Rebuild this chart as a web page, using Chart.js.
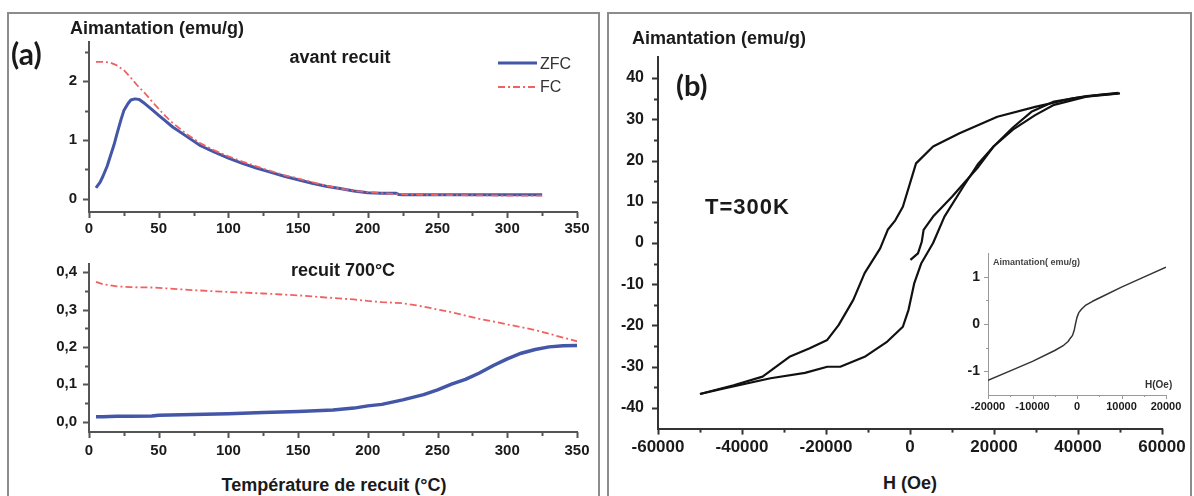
<!DOCTYPE html>
<html>
<head>
<meta charset="utf-8">
<script src="https://cdn.jsdelivr.net/npm/chart.js@4.4.1/dist/chart.umd.min.js"></script>
<style>
  body { margin: 0; width: 1194px; height: 496px; background: #fff; position: relative; overflow: hidden; font-family: "Liberation Sans", Arial, sans-serif; }
  .box { position: absolute; border: 2px solid #8c8c8c; }
  canvas { position: absolute; }
  .t { position: absolute; white-space: nowrap; line-height: 1; color: #1a1a1a; font-weight: bold; }
  .c { transform: translate(-50%, -50%); }
  .l { transform: translateY(-50%); }
</style>
</head>
<body>
<div class="box" style="left:7px;top:12px;width:589px;height:500px"></div>
<div class="box" style="left:607px;top:12px;width:581px;height:500px"></div>

<canvas id="topChart" width="560" height="210" style="left:40px;top:30px"></canvas>
<canvas id="botChart" width="560" height="215" style="left:40px;top:252px"></canvas>
<canvas id="loopChart" width="590" height="420" style="left:600px;top:45px"></canvas>
<canvas id="insetChart" width="250" height="180" style="left:940px;top:243px"></canvas>

<div class="t l" style="left:70px;top:28px;font-size:18px">Aimantation (emu/g)</div>
<div class="t l" style="left:11px;top:53px;font-size:30px;font-family:Lato">(a)</div>
<div class="t c" style="left:340px;top:57px;font-size:18px">avant recuit</div>
<div class="t c" style="left:343px;top:270px;font-size:18px">recuit 700°C</div>
<div class="t c" style="left:334px;top:485px;font-size:18px">Température de recuit (°C)</div>

<svg style="position:absolute;left:497px;top:53px" width="42" height="44">
  <line x1="1" y1="10" x2="40" y2="10" stroke="#4356a8" stroke-width="3"/>
  <line x1="1" y1="34" x2="40" y2="34" stroke="#f06262" stroke-width="1.8" stroke-dasharray="7,3,2,3"/>
</svg>
<div class="t l" style="left:540px;top:64px;font-size:16px;font-weight:normal;color:#333">ZFC</div>
<div class="t l" style="left:540px;top:87px;font-size:16px;font-weight:normal;color:#333">FC</div>

<div class="t l" style="left:632px;top:38px;font-size:18px">Aimantation (emu/g)</div>
<div class="t l" style="left:676px;top:84px;font-size:29px;font-family:Lato">(b)</div>
<div class="t l" style="left:705px;top:207px;font-size:22px;letter-spacing:1px">T=300K</div>
<div class="t c" style="left:910px;top:483px;font-size:18px">H (Oe)</div>
<div class="t l" style="left:993px;top:262px;font-size:9px;color:#444">Aimantation( emu/g)</div>
<div class="t l" style="left:1145px;top:385px;font-size:10px;color:#333">H(Oe)</div>

<script>
// (a) haut : avant recuit
const topTempZfc = [5, 8, 10, 13, 15, 18, 20, 23, 25, 28, 30, 33, 36, 40, 45, 50, 55, 60, 70, 80, 90, 100, 110, 120, 130, 140, 150, 160, 170, 180, 190, 200, 210, 220, 222, 225, 250, 275, 300, 325];
const topZfc = [0.18, 0.28, 0.38, 0.55, 0.7, 0.92, 1.1, 1.35, 1.5, 1.62, 1.68, 1.7, 1.69, 1.62, 1.52, 1.42, 1.32, 1.22, 1.06, 0.9, 0.79, 0.69, 0.6, 0.52, 0.45, 0.38, 0.32, 0.26, 0.21, 0.17, 0.13, 0.1, 0.09, 0.09, 0.07, 0.065, 0.065, 0.065, 0.065, 0.065];
const topTempFc = [5, 10, 15, 20, 25, 30, 35, 40, 45, 50, 55, 60, 70, 80, 90, 100, 110, 120, 130, 140, 150, 160, 170, 180, 190, 200, 210, 225, 250, 275, 300, 325];
const topFc = [2.33, 2.33, 2.32, 2.27, 2.19, 2.06, 1.92, 1.8, 1.66, 1.53, 1.4, 1.29, 1.1, 0.94, 0.82, 0.72, 0.63, 0.55, 0.47, 0.4, 0.34, 0.28, 0.22, 0.17, 0.13, 0.11, 0.09, 0.07, 0.06, 0.055, 0.05, 0.05];

// (a) bas : recuit 700°C
const botTemp = [5, 10, 20, 30, 45, 50, 75, 100, 125, 150, 175, 190, 200, 210, 225, 240, 250, 260, 270, 280, 290, 300, 310, 320, 330, 340, 350];
const botZfc = [0.013, 0.013, 0.014, 0.014, 0.015, 0.017, 0.019, 0.021, 0.024, 0.027, 0.031, 0.036, 0.042, 0.046, 0.058, 0.072, 0.085, 0.1, 0.113, 0.13, 0.15, 0.168, 0.183, 0.193, 0.2, 0.203, 0.204];
const botFc = [0.374, 0.368, 0.362, 0.36, 0.359, 0.358, 0.352, 0.347, 0.343, 0.338, 0.331, 0.327, 0.323, 0.32, 0.317, 0.308, 0.3, 0.293, 0.284, 0.275, 0.268, 0.26, 0.253, 0.245, 0.235, 0.225, 0.215];

const tempTicks = [0, 25, 50, 75, 100, 125, 150, 175, 200, 225, 250, 275, 300, 325, 350];
const topMTicks = [0, 0.5, 1, 1.5, 2, 2.5];
const botMTicks = [0, 0.05, 0.1, 0.15, 0.2, 0.25, 0.3, 0.35, 0.4];

// (b) cycle d'hysteresis a 300 K
const hVirgin = [100, 1900, 2800, 3240, 5500, 10000, 16300, 19900, 24500, 28900, 34300, 42000, 49600];
const mVirgin = [-4.1, -2.5, 0.3, 3.2, 6.4, 11.2, 18.5, 23.4, 28, 31.8, 34.3, 35.6, 36.3];
const hDesc = [49600, 45000, 38800, 29800, 20800, 11800, 5500, 1440, -1700, -3500, -5300, -7100, -10800, -13500, -17000, -19700, -24000, -28700, -35100, -42000, -50000];
const mDesc = [36.4, 35.9, 35.1, 33.0, 30.6, 26.6, 23.4, 19.3, 8.8, 5.5, 3.2, -1.3, -7.3, -13.8, -19.9, -23.5, -25.6, -27.6, -32.4, -34.5, -36.6];
const hAsc = [-50000, -44000, -33200, -25000, -19700, -16600, -10800, -5400, -1700, -350, 1000, 2700, 5500, 8200, 12700, 16300, 19900, 24500, 29800, 34300, 42000, 50000];
const mAsc = [-36.6, -35.2, -32.8, -31.5, -30, -30, -27.6, -23.9, -20.3, -16.2, -9.8, -4.9, 0, 6.4, 13.7, 19.3, 23.4, 27.5, 31, 33.5, 35.5, 36.3];
const hTicks = [-60000, -50000, -40000, -30000, -20000, -10000, 0, 10000, 20000, 30000, 40000, 50000, 60000];
const mTicks = [-40, -35, -30, -25, -20, -15, -10, -5, 0, 5, 10, 15, 20, 25, 30, 35, 40];

// encart
const insetH = [-20000, -15000, -10000, -5000, -3000, -2000, -1500, -1000, -600, -300, 0, 400, 1000, 2000, 3500, 5000, 10000, 15000, 20000];
const insetM = [-1.19, -0.99, -0.79, -0.56, -0.45, -0.37, -0.3, -0.24, -0.12, 0.02, 0.14, 0.24, 0.31, 0.4, 0.48, 0.55, 0.78, 0.99, 1.2];
const insetHTicks = [-20000, -15000, -10000, -5000, 0, 5000, 10000, 15000, 20000];
const insetMTicks = [-1, -0.5, 0, 0.5, 1];

const pts = (xs, ys) => xs.map((x, i) => ({ x: x, y: ys[i] }));
const near = (v, step) => Math.abs(v / step - Math.round(v / step)) < 1e-6;

// ticks vers l'exterieur, majeurs longs / mineurs courts
const tickMarks = {
  id: 'tickMarks',
  afterDraw(chart, args, opts) {
    const ctx = chart.ctx;
    const ca = chart.chartArea;
    ctx.save();
    ctx.strokeStyle = opts.color;
    ctx.lineWidth = opts.width;
    chart.scales.x.ticks.forEach(t => {
      const px = Math.round(chart.scales.x.getPixelForValue(t.value)) + 0.5;
      const len = t.label !== '' ? opts.major : opts.minor;
      ctx.beginPath();
      ctx.moveTo(px, ca.bottom);
      ctx.lineTo(px, ca.bottom + len);
      ctx.stroke();
    });
    chart.scales.y.ticks.forEach(t => {
      const py = Math.round(chart.scales.y.getPixelForValue(t.value)) + 0.5;
      const len = t.label !== '' ? opts.major : opts.minor;
      ctx.beginPath();
      ctx.moveTo(ca.left, py);
      ctx.lineTo(ca.left - len, py);
      ctx.stroke();
    });
    ctx.restore();
  }
};

function axisChart(id, datasets, ax) {
  return new Chart(document.getElementById(id), {
    type: 'scatter',
    data: { datasets: datasets },
    plugins: [tickMarks],
    options: {
      responsive: false,
      animation: false,
      devicePixelRatio: 1,
      layout: { autoPadding: false, padding: { left: 0, top: ax.padTop, right: ax.padRight, bottom: 0 } },
      plugins: {
        legend: { display: false },
        tooltip: { enabled: false },
        tickMarks: { color: ax.color, width: ax.lineWidth, major: ax.major, minor: ax.minor }
      },
      elements: { point: { radius: 0 }, line: { tension: 0, borderJoinStyle: 'round' } },
      scales: {
        x: {
          type: 'linear',
          min: ax.xMin,
          max: ax.xMax,
          grid: { display: false, drawTicks: false },
          border: { display: true, color: ax.color, width: ax.lineWidth },
          afterBuildTicks: s => { s.ticks = ax.xTicks.map(v => ({ value: v })); },
          afterFit: s => { s.height = ax.xh; s.paddingLeft = 0; s.paddingRight = 0; },
          ticks: {
            autoSkip: false, maxRotation: 0, padding: ax.xPad, color: '#1a1a1a',
            font: { family: 'Liberation Sans', weight: 'bold', size: ax.xFont },
            callback: ax.xLabel
          }
        },
        y: {
          type: 'linear',
          min: ax.yMin,
          max: ax.yMax,
          grid: { display: false, drawTicks: false },
          border: { display: true, color: ax.color, width: ax.lineWidth },
          afterBuildTicks: s => { s.ticks = ax.yTicks.map(v => ({ value: v })); },
          afterFit: s => { s.width = ax.yw; s.paddingTop = 0; s.paddingBottom = 0; },
          ticks: {
            autoSkip: false, padding: ax.yPad, color: '#1a1a1a',
            font: { family: 'Liberation Sans', weight: 'bold', size: ax.yFont },
            callback: ax.yLabel
          }
        }
      }
    }
  });
}

const tempLabel = v => near(v, 50) ? String(v) : '';

axisChart('topChart', [
  { data: pts(topTempFc, topFc), showLine: true, borderColor: '#f06262', borderWidth: 1.8, borderDash: [7, 3, 2, 3] },
  { data: pts(topTempZfc, topZfc), showLine: true, borderColor: '#4356a8', borderWidth: 3 }
], {
  padTop: 12, padRight: 23, yw: 49, xh: 28,
  xMin: 0, xMax: 350, yMin: -0.23, yMax: 2.67,
  xTicks: tempTicks, yTicks: topMTicks,
  xLabel: tempLabel, yLabel: v => near(v, 1) ? String(v) : '',
  xPad: 8, yPad: 12, xFont: 15, yFont: 15,
  color: '#555', lineWidth: 2, major: 6, minor: 4
});

axisChart('botChart', [
  { data: pts(botTemp, botFc), showLine: true, borderColor: '#f06262', borderWidth: 1.8, borderDash: [7, 3, 2, 3] },
  { data: pts(botTemp, botZfc), showLine: true, borderColor: '#4356a8', borderWidth: 3.5 }
], {
  padTop: 12, padRight: 23, yw: 49, xh: 35,
  xMin: 0, xMax: 350, yMin: -0.028, yMax: 0.422,
  xTicks: tempTicks, yTicks: botMTicks,
  xLabel: tempLabel, yLabel: v => near(v, 0.1) ? v.toFixed(1).replace('.', ',') : '',
  xPad: 10, yPad: 12, xFont: 15, yFont: 15,
  color: '#555', lineWidth: 2, major: 6, minor: 4
});

axisChart('loopChart', [
  { data: pts(hVirgin, mVirgin), showLine: true, borderColor: '#111', borderWidth: 2.2 },
  { data: pts(hDesc, mDesc), showLine: true, borderColor: '#111', borderWidth: 2.2 },
  { data: pts(hAsc, mAsc), showLine: true, borderColor: '#111', borderWidth: 2.2 }
], {
  padTop: 12.4, padRight: 28, yw: 58, xh: 36.4,
  xMin: -60000, xMax: 60000, yMin: -45, yMax: 45,
  xTicks: hTicks, yTicks: mTicks,
  xLabel: v => near(v, 20000) ? String(v) : '', yLabel: v => near(v, 10) ? String(v) : '',
  xPad: 9, yPad: 14, xFont: 17, yFont: 16,
  color: '#333', lineWidth: 2, major: 6, minor: 4
});

axisChart('insetChart', [
  { data: pts(insetH, insetM), showLine: true, borderColor: '#333', borderWidth: 1.5 }
], {
  padTop: 10, padRight: 24, yw: 48, xh: 28,
  xMin: -20000, xMax: 20000, yMin: -1.5, yMax: 1.5,
  xTicks: insetHTicks, yTicks: insetMTicks,
  xLabel: v => near(v, 10000) ? String(v) : '', yLabel: v => near(v, 1) ? String(v) : '',
  xPad: 5, yPad: 8, xFont: 11, yFont: 14,
  color: '#999', lineWidth: 1, major: 4, minor: 2
});
</script>
</body>
</html>
